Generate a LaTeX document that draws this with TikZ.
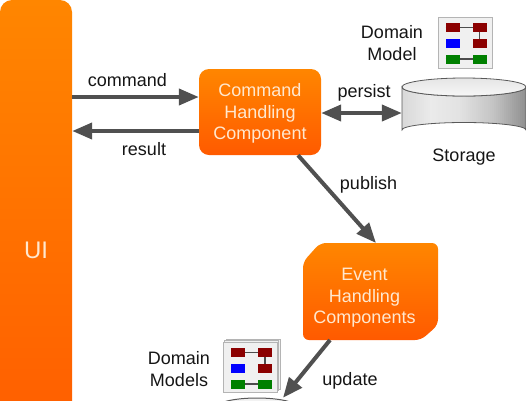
\documentclass[tikz,border=0pt]{standalone}
\usepackage{fontspec}
\setmainfont{Liberation Sans}
\usetikzlibrary{arrows.meta,calc}
\definecolor{lbl}{HTML}{151515}
\definecolor{boxtxt}{HTML}{FFE8CF}
\definecolor{arrowc}{HTML}{505050}
\definecolor{dred}{HTML}{8B0000}
\definecolor{dgreen}{HTML}{008000}
\definecolor{grtop}{HTML}{FF8600}
\definecolor{grbot}{HTML}{FF5A00}
\definecolor{iconfill}{HTML}{F0F0F0}
\definecolor{iconline}{HTML}{B4B4B4}
\tikzset{
  lab/.style={font=\fontsize{18}{21.5}\selectfont,text=lbl,align=center,inner sep=0pt},
  orangebox/.style={rectangle,top color=grtop,bottom color=grbot,draw=none,
     inner sep=0pt,font=\fontsize{18}{21.5}\selectfont,text=boxtxt,align=center},
  flow/.style={draw=arrowc,line width=4pt},
  headend/.style={-{Triangle[length=20pt,width=16pt]}},
  headboth/.style={{Triangle[length=20pt,width=16pt]}-{Triangle[length=20pt,width=16pt]}},
  iconbg/.style={fill=iconfill,draw=iconline,line width=.8pt,inner sep=0pt},
  ghost/.style={draw=none,fill=none,inner sep=0pt}
}
\newcommand{\modelrects}[2]{%
  \begin{scope}[shift={(#1,#2)}]
    \draw[line width=1.2pt,draw=black!70] (0,4.5) -- (27,4.5);
    \draw[line width=1.2pt,draw=black!70] (34,9) -- (34,16);
    \draw[line width=1.2pt,draw=black!70] (0,36) -- (27,36);
    \fill[dred] (0,0) rectangle (14,9);
    \fill[dred] (27,0) rectangle (41,9);
    \fill[blue] (0,16) rectangle (14,25);
    \fill[dred] (27,16) rectangle (41,25);
    \fill[dgreen] (0,32) rectangle (14,40.5);
    \fill[dgreen] (27,32) rectangle (41,40.5);
  \end{scope}}
\newcommand{\sidepath}{(402,87) -- (402,130) arc[start angle=180,end angle=360,x radius=62,y radius=7.5]
  -- (526,87) arc[start angle=0,end angle=180,x radius=62,y radius=9] -- cycle}
\begin{document}
\begin{tikzpicture}[x=1pt,y=-1pt]
\useasboundingbox (0,0) rectangle (526,400);
\clip (0,0) rectangle (526,400);
\node[orangebox,rounded corners=12pt,minimum width=72pt,minimum height=470pt] (ui) at (36,235) {};
\node[font=\fontsize{24}{28}\selectfont,text=boxtxt,inner sep=0pt] (uilabel) at (36,250) {UI};
\node[orangebox,rounded corners=10pt,minimum width=122pt,minimum height=86pt] (cmd) at (260,112) {};
\node[font=\fontsize{18}{21.5}\selectfont,text=boxtxt,align=center,inner sep=0pt] (cmdtext) at (260,113.5) {Command\\Handling\\Component};
% event stack outline
\shade[top color=grtop,bottom color=grbot,rounded corners=6pt]
  (320,243) -- (438,243) -- (438,325) -- (421,340) -- (303,340) -- (303,262) -- cycle;
\node[font=\fontsize{18}{21.5}\selectfont,text=boxtxt,align=center,inner sep=0pt] (evf) at (364.5,298) {Event\\Handling\\Components};
\coordinate (evtop) at (376,243);
\coordinate (evbot) at (330,340);
% storage
\node[ghost,minimum width=124pt,minimum height=59pt] (storage) at (464,107.5) {};
\begin{scope}
  \clip \sidepath;
  \foreach \i in {0,...,61}{
    \pgfmathsetmacro{\g}{\i<14 ? 15-7*\i/14 : (\i<28 ? 8+3*(\i-14)/14 : (\i<45 ? 11+12*(\i-28)/17 : 23+20*(\i-45)/16))}
    \fill[black!\g] (402+2*\i,75) rectangle (404.6+2*\i,140);
  }
\end{scope}
\draw[black!65,line width=.8pt] \sidepath;
\draw[black!65,line width=.8pt,top color=black!10,bottom color=black!3] (464,87) ellipse[x radius=62,y radius=9];
% lower storage, only its top edge is visible
\node[ghost,minimum width=80pt,minimum height=10pt] (eventstore) at (257,403) {};
\draw[black!65,line width=1pt,fill=black!5] (257,407) ellipse[x radius=40,y radius=9];
% domain model icon
\node[iconbg,minimum width=54pt,minimum height=51pt] (model) at (465,42.5) {};
\modelrects{445.5}{23}
% domain models icon
\node[iconbg,minimum width=54pt,minimum height=50pt] (modelsb) at (253,364) {};
\node[iconbg,minimum width=54pt,minimum height=50pt] (modelsm) at (251.5,365.5) {};
\node[iconbg,minimum width=54pt,minimum height=50pt] (models) at (250,367) {};
\modelrects{231}{348}
% connectors
\draw[flow,headend] (ui.east |- 0,97) -- (cmd.west |- 0,97);
\draw[flow,headend] (cmd.west |- 0,131) -- (ui.east |- 0,131);
\draw[flow,headboth] (cmd.east |- 0,113) -- (storage.west |- 0,113);
\draw[flow,headend] (cmd.south -| 298,0) -- (evtop);
\draw[flow,headend] (evbot) -- (eventstore.north -| 283,0);
% labels
\node[lab] (lcommand) at (127.5,80.5) {command};
\node[lab] (lresult) at (144,149) {result};
\node[lab] (lpersist) at (364,92.5) {persist};
\node[lab] (lpublish) at (368.5,184.5) {publish};
\node[lab] (lstorage) at (464,157) {Storage};
\node[lab] (ldm) at (392,43) {Domain\\Model};
\node[lab] (ldms) at (179,369) {Domain\\Models};
\node[lab] (lupdate) at (350,380.5) {update};
\end{tikzpicture}
\end{document}
